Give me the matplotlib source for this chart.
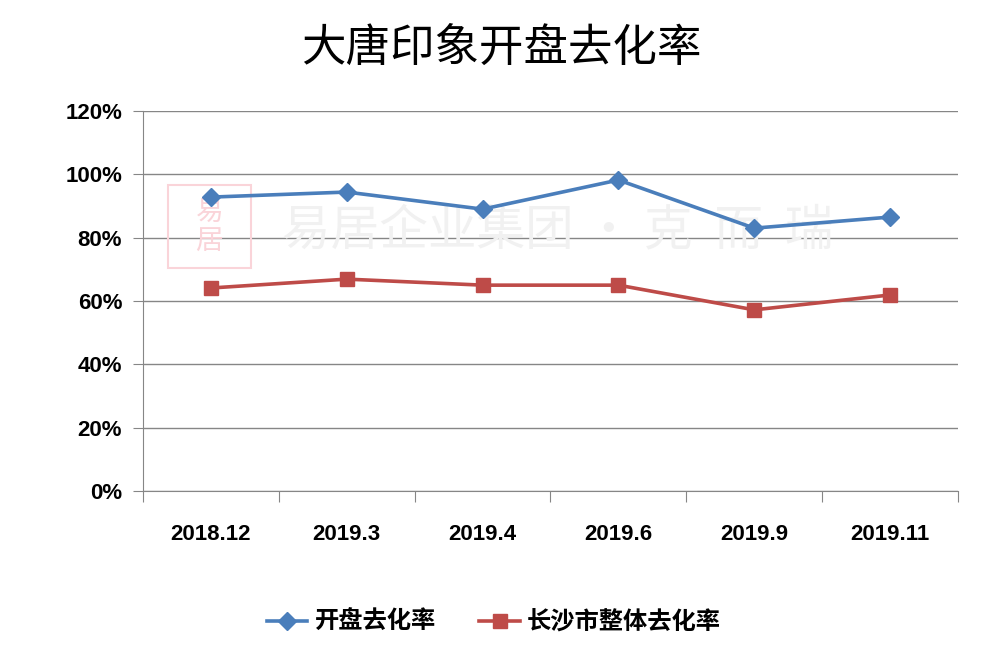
import numpy as np
import matplotlib.pyplot as plt
from matplotlib.patches import Rectangle

plt.rcParams['font.family'] = ['Noto Sans CJK SC', 'DejaVu Sans']

categories = ['2018.12', '2019.3', '2019.4', '2019.6', '2019.9', '2019.11']
kaipan = [92.8, 94.4, 89.0, 98.2, 83.0, 86.5]
changsha = [64.1, 66.9, 65.0, 65.0, 57.2, 61.9]
yticks = [0, 20, 40, 60, 80, 100, 120]
grey = '#868686'

fig = plt.figure(figsize=(10.02, 6.69), dpi=100)
ax = fig.add_axes([0.1427, 0.2661, 0.8134, 0.568])

x = np.arange(len(categories))

# 水印 (放在线的下面)
ax.text(0.557, 0.655, '易居企业集团 · 克  而  瑞', fontsize=35, color='#F1F1F1',
        ha='center', va='center', transform=fig.transFigure, zorder=1)
ax.add_patch(Rectangle((0.168, 0.60), 0.082, 0.123, transform=fig.transFigure,
                       fill=False, edgecolor='#FAD4D9', lw=1.5, zorder=1))
ax.text(0.209, 0.662, '易\n居', fontsize=20, color='#FAD4D9', ha='center', va='center',
        linespacing=0.95, transform=fig.transFigure, zorder=1)

ax.plot(x, kaipan, color='#4A7EBB', lw=2.6, marker='D', markersize=9.5,
        label='开盘去化率', zorder=3)
ax.plot(x, changsha, color='#BE4B48', lw=2.6, marker='s', markersize=10.5,
        label='长沙市整体去化率', zorder=3)

ax.set_xlim(-0.5, len(categories) - 0.5)
ax.set_ylim(0, 120)
ax.set_yticks(yticks)
ax.set_yticklabels([f'{v}%' for v in yticks], family='Liberation Sans',
                   fontweight='bold', fontsize=16)
ax.yaxis.grid(True, color=grey, lw=1)
ax.set_axisbelow(True)

ax.set_xticks(np.arange(-0.5, len(categories)), [''] * (len(categories) + 1))
ax.set_xticks(x, categories, minor=True, family='Liberation Sans',
              fontweight='bold', fontsize=16)
ax.tick_params(axis='x', which='major', length=8, color=grey, direction='out')
ax.tick_params(axis='x', which='minor', length=0, pad=24)
ax.tick_params(axis='y', length=7, color=grey, pad=8)

for s in ['top', 'right']:
    ax.spines[s].set_visible(False)
for s in ['left', 'bottom']:
    ax.spines[s].set_color(grey)

fig.text(0.5, 0.928, '大唐印象开盘去化率', fontsize=32, ha='center', va='center')

fig.legend(loc='center', bbox_to_anchor=(0.493, 0.07), ncol=2, frameon=False,
           prop={'size': 17.5, 'weight': 'bold'}, handlelength=1.65,
           columnspacing=1.8, handletextpad=0.3)

fig.savefig('out.png', dpi=100)
